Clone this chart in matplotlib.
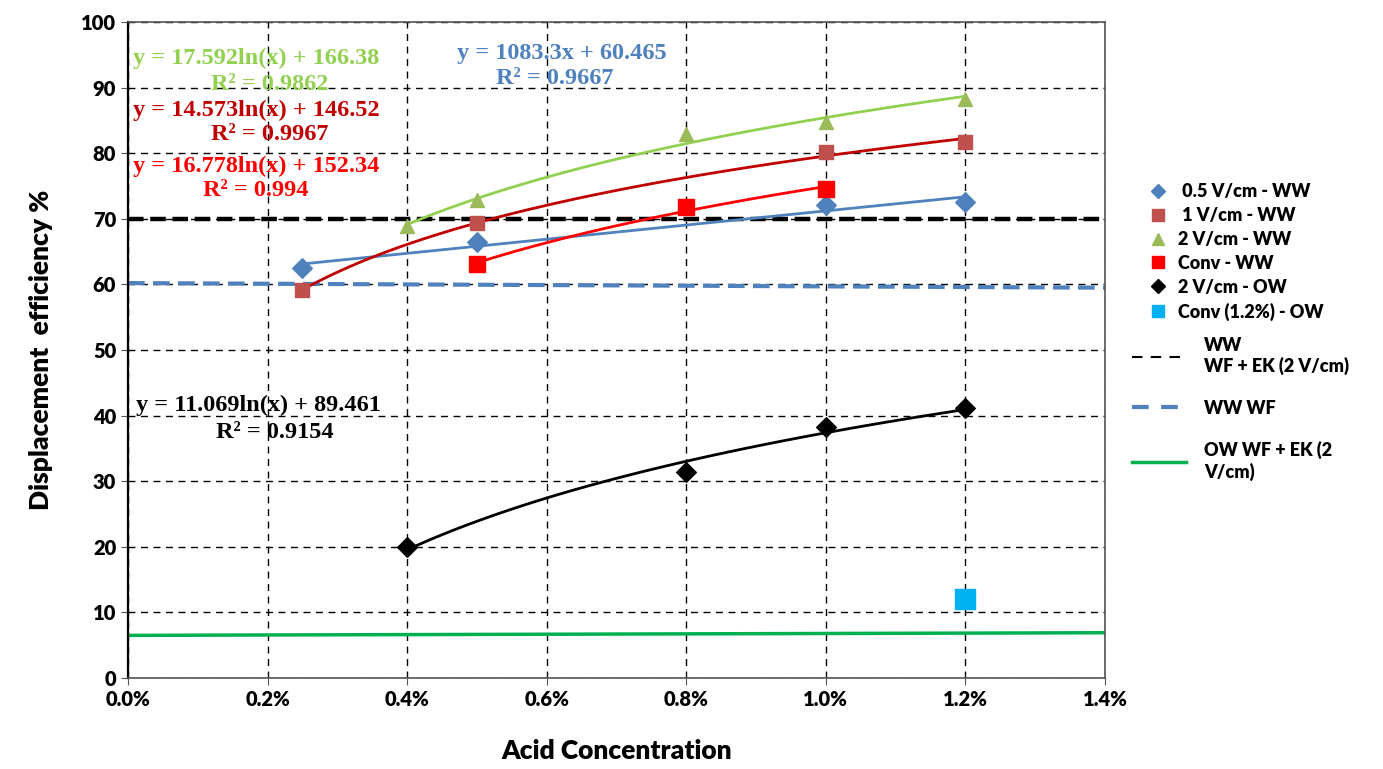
import numpy as np
import matplotlib
matplotlib.use("Agg")
import matplotlib.pyplot as plt
from matplotlib.lines import Line2D
from matplotlib.ticker import FuncFormatter, MultipleLocator

plt.rcParams['font.family'] = ['Lato', 'DejaVu Sans']

# ---- data (acid concentration as fraction) ----
x_05ww = [0.0025, 0.005, 0.010, 0.012]
y_05ww = [62.5, 66.4, 72.1, 72.5]
x_1ww = [0.0025, 0.005, 0.010, 0.012]
y_1ww = [59.1, 69.4, 80.2, 81.7]
x_2ww = [0.004, 0.005, 0.008, 0.010, 0.012]
y_2ww = [68.9, 72.8, 83.0, 84.8, 88.3]
x_convww = [0.005, 0.008, 0.010]
y_convww = [63.1, 71.8, 74.5]
x_2ow = [0.004, 0.008, 0.010, 0.012]
y_2ow = [20.0, 31.4, 38.3, 41.2]
x_convow = [0.012]
y_convow = [12.0]

ref_x = [0.0, 0.014]
ref_ww_ek = [70.0, 70.0]
ref_ww_wf = [60.2, 59.5]
ref_ow_ek = [6.5, 6.9]

eq_labels = {
    'g': ("y = 17.592ln(x) + 166.38", "R² = 0.9862"),
    'br': ("y = 14.573ln(x) + 146.52", "R² = 0.9967"),
    'r': ("y = 16.778ln(x) + 152.34", "R² = 0.994"),
    'b': ("y = 1083.3x + 60.465", "R² = 0.9667"),
    'k': ("y = 11.069ln(x) + 89.461", "R² = 0.9154"),
}

C_BLUE = '#4F81BD'
C_BROWN = '#C0504D'
C_DKRED = '#C00000'
C_GREEN_M = '#9BBB59'
C_GREEN_L = '#92D050'
C_RED = '#FF0000'
C_CYAN = '#00B0F0'
C_GREEN_S = '#00B050'

fig = plt.figure(figsize=(13.83, 7.69), dpi=100)
ax = fig.add_axes([128/1383, 91/769, 977/1383, 656/769])

ax.set_xlim(0, 0.014)
ax.set_ylim(0, 100)
ax.xaxis.set_major_locator(MultipleLocator(0.002))
ax.yaxis.set_major_locator(MultipleLocator(10))
ax.xaxis.set_major_formatter(FuncFormatter(lambda v, p: f"{v*100:.1f}%"))
ax.grid(True, color='black', linestyle=(0, (5, 4)), linewidth=1.0)
ax.set_axisbelow(True)
for s in ax.spines.values():
    s.set_color('#555555')
    s.set_linewidth(1.2)
ax.spines['left'].set_color('black')
ax.spines['left'].set_linewidth(1.6)
ax.tick_params(labelsize=14.5, length=5, color='#555555')
for lab in ax.get_xticklabels() + ax.get_yticklabels():
    lab.set_fontweight('heavy')

# reference lines
ax.plot(ref_x, ref_ww_ek, color='black', linestyle=(0, (3.5, 1.5)), linewidth=3.2, zorder=2)
ax.plot(ref_x, ref_ww_wf, color=C_BLUE, linestyle=(0, (4, 2)), linewidth=3.0, zorder=2)
ax.plot(ref_x, ref_ow_ek, color=C_GREEN_S, linewidth=2.5, zorder=2)

# trend lines
def log_trend(xs, ys, color):
    xs = np.asarray(xs); ys = np.asarray(ys)
    a, b = np.polyfit(np.log(xs), ys, 1)
    xx = np.linspace(xs.min(), xs.max(), 100)
    ax.plot(xx, a*np.log(xx) + b, color=color, linewidth=2, zorder=3)

def lin_trend(xs, ys, color):
    xs = np.asarray(xs); ys = np.asarray(ys)
    a, b = np.polyfit(xs, ys, 1)
    xx = np.linspace(xs.min(), xs.max(), 50)
    ax.plot(xx, a*xx + b, color=color, linewidth=2, zorder=3)

lin_trend(x_05ww, y_05ww, C_BLUE)
log_trend(x_1ww, y_1ww, C_DKRED)
log_trend(x_2ww, y_2ww, C_GREEN_L)
log_trend(x_convww, y_convww, C_RED)
log_trend(x_2ow, y_2ow, 'black')

# markers
ax.scatter(x_05ww, y_05ww, marker='D', s=100, color=C_BLUE, zorder=4)
ax.scatter(x_1ww, y_1ww, marker='s', s=100, color=C_BROWN, zorder=4)
ax.scatter(x_2ww, y_2ww, marker='^', s=100, color=C_GREEN_M, zorder=4)
ax.scatter(x_convww, y_convww, marker='s', s=140, color=C_RED, zorder=4)
ax.scatter(x_2ow, y_2ow, marker='D', s=100, color='black', zorder=4)
ax.scatter(x_convow, y_convow, marker='s', s=200, color=C_CYAN, zorder=4)

# equation labels
eqfont = dict(family='Liberation Serif', fontweight='bold', fontsize=17.5, ha='center', va='center')
def px(xp, yp):
    return xp / 1383, 1 - yp / 769
for key, color, (l1x, l1y), (l2x, l2y) in [
    ('g', C_GREEN_L, (256, 58), (270, 84)),
    ('br', C_DKRED, (256, 110), (270, 134)),
    ('r', C_RED, (256, 166), (256, 190)),
    ('b', C_BLUE, (562, 54), (555, 78)),
    ('k', 'black', (258, 405), (275, 433)),
]:
    fig.text(*px(l1x, l1y), eq_labels[key][0], color=color, **eqfont)
    fig.text(*px(l2x, l2y), eq_labels[key][1], color=color, **eqfont)

ax.set_xlabel("Acid Concentration", fontsize=19, fontweight='heavy', labelpad=22)
ax.set_ylabel("Displacement  efficiency %", fontsize=19, fontweight='heavy', labelpad=20)

# legends
mh = [
    Line2D([], [], marker='D', color=C_BLUE, linestyle='none', markersize=7),
    Line2D([], [], marker='s', color=C_BROWN, linestyle='none', markersize=9),
    Line2D([], [], marker='^', color=C_GREEN_M, linestyle='none', markersize=9),
    Line2D([], [], marker='s', color=C_RED, linestyle='none', markersize=9),
    Line2D([], [], marker='D', color='black', linestyle='none', markersize=7),
    Line2D([], [], marker='s', color=C_CYAN, linestyle='none', markersize=9),
]
ml = [" 0.5 V/cm - WW", " 1 V/cm - WW", "2 V/cm - WW", "Conv - WW", "2 V/cm - OW", "Conv (1.2%) - OW"]
leg1 = fig.legend(mh, ml, loc='upper left', bbox_to_anchor=(1140/1383, 1 - 176/769),
                  frameon=False, prop=dict(weight='heavy', size=13), handletextpad=0.5,
                  labelspacing=0.38, borderaxespad=0, handlelength=1.2)
lh = [
    Line2D([], [], color='black', linestyle=(0, (5, 4)), linewidth=1.5),
    Line2D([], [], color=C_BLUE, linestyle=(0, (4, 3)), linewidth=3),
    Line2D([], [], color=C_GREEN_S, linewidth=2.5),
]
ll = ["WW\nWF + EK (2 V/cm)", "WW WF", "OW WF + EK (2\nV/cm)"]
leg2 = fig.legend(lh, ll, loc='upper left', bbox_to_anchor=(1125/1383, 1 - 330/769),
                  frameon=False, prop=dict(weight='heavy', size=13), handletextpad=1.0,
                  labelspacing=1.35, borderaxespad=0, handlelength=3.0)

fig.savefig("out.png", dpi=100)
